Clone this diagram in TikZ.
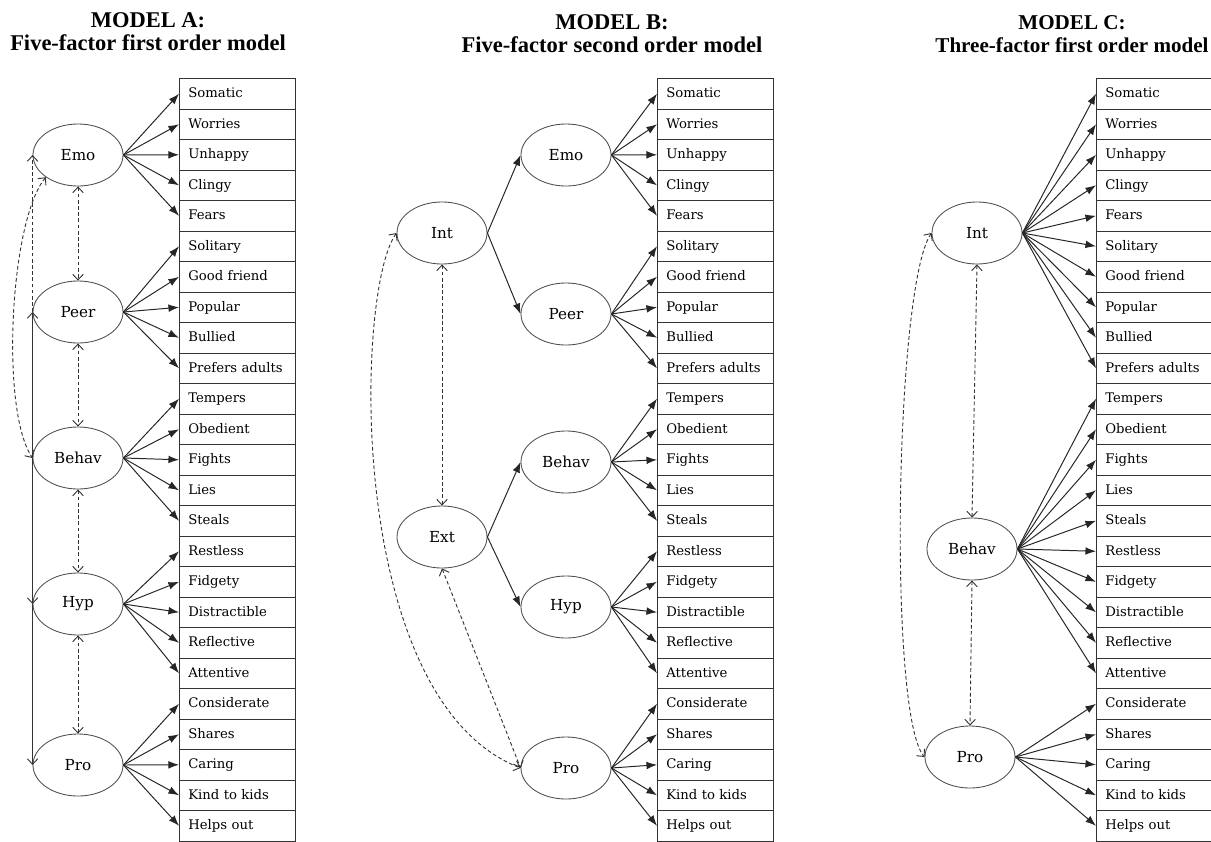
\documentclass[tikz,border=0pt]{standalone}
\usepackage{fontspec}
\setmainfont{DejaVu Serif}
\newfontfamily\headfont{Liberation Serif}
\usetikzlibrary{shapes,arrows.meta,positioning}

\begin{document}
\begin{tikzpicture}[x=0.025cm,y=-0.025cm,
  factor/.style={draw=black!70,line width=0.6pt,ellipse,minimum width=2.25cm,minimum height=1.55cm,inner sep=0pt,font=\fontsize{10.8}{12}\selectfont},
  item/.style={draw=black!80,line width=0.75pt,anchor=north west,minimum width=2.9cm,minimum height=0.7625cm,
    text width=2.46cm,inner xsep=0.22cm,text height=1.6ex,text depth=0.45ex,font=\fontsize{9.4}{11}\selectfont},
  wide/.style={minimum width=3.2cm,text width=2.76cm},
  load/.style={draw=black!85,line width=0.7pt,-{Latex[length=7.5pt,width=5.5pt]}},
  cov/.style={draw=black!80,line width=0.65pt,dashed,dash pattern=on 2.6pt off 1.8pt,{Straight Barb[length=4pt,width=7.5pt]}-{Straight Barb[length=4pt,width=7.5pt]}},
  covtip/.style={-{Straight Barb[length=4pt,width=7.5pt]}},
  title/.style={align=center,font=\headfont\bfseries\fontsize{16}{16.5}\selectfont}]
\useasboundingbox (0,0) rectangle (1211,842);

% titles
\node[title] (tA) at (148,32) {MODEL A:\\Five-factor first order model};
\node[title] (tB) at (612,34) {MODEL B:\\Five-factor second order model};
\node[title,font=\headfont\bfseries\fontsize{15}{16.5}\selectfont] (tC) at (1072,34) {MODEL C:\\Three-factor first order model};

% observed items
\foreach \lab [count=\i] in {Somatic,Worries,Unhappy,Clingy,Fears,Solitary,Good friend,Popular,Bullied,Prefers adults,Tempers,Obedient,Fights,Lies,Steals,Restless,Fidgety,Distractible,Reflective,Attentive,Considerate,Shares,Caring,Kind to kids,Helps out}{
  \node[item] (a\i) at (179,{78+30.5*(\i-1)}) {\lab};
  \node[item] (b\i) at (657,{78+30.5*(\i-1)}) {\lab};
  \node[item,wide] (c\i) at (1096,{78+30.5*(\i-1)}) {\lab};
}

% model A
\node[factor] (aEmo) at (78,155) {Emo};
\node[factor] (aPeer) at (78,312) {Peer};
\node[factor] (aBehav) at (78,458) {Behav};
\node[factor] (aHyp) at (78,604) {Hyp};
\node[factor] (aPro) at (78,765) {Pro};

% model B
\node[factor] (bInt) at (442,233) {Int};
\node[factor] (bExt) at (442,537) {Ext};
\node[factor] (bEmo) at (566,155) {Emo};
\node[factor] (bPeer) at (566,314) {Peer};
\node[factor] (bBehav) at (566,462) {Behav};
\node[factor] (bHyp) at (566,607) {Hyp};
\node[factor] (bPro) at (566,768) {Pro};

% model C
\node[factor] (cInt) at (977,233) {Int};
\node[factor] (cBehav) at (972,549) {Behav};
\node[factor] (cPro) at (970,757) {Pro};

% loadings
\foreach \f/\a/\b in {Emo/1/5,Peer/6/10,Behav/11/15,Hyp/16/20,Pro/21/25}{
  \foreach \i in {\a,...,\b}{
    \draw[load] (a\f.east) -- (a\i.west);
    \draw[load] (b\f.east) -- (b\i.west);
  }
}
\draw[load] (bInt.east) -- (bEmo.west);
\draw[load] (bInt.east) -- (bPeer.west);
\draw[load] (bExt.east) -- (bBehav.west);
\draw[load] (bExt.east) -- (bHyp.west);
\foreach \i in {1,...,10} \draw[load] (cInt.east) -- (c\i.west);
\foreach \i in {11,...,20} \draw[load] (cBehav.east) -- (c\i.west);
\foreach \i in {21,...,25} \draw[load] (cPro.east) -- (c\i.west);

% covariances, model A
\draw[cov] (aEmo.south) -- (aPeer.north);
\draw[cov] (aPeer.south) -- (aBehav.north);
\draw[cov] (aBehav.south) -- (aHyp.north);
\draw[cov] (aHyp.south) -- (aPro.north);
\draw[cov,covtip] (aPeer.west) -- (aEmo.west);
\draw[cov,solid,covtip] (aBehav.west) -- (aPeer.west);
\draw[cov,solid,covtip] (aBehav.west) -- (aHyp.west);
\draw[cov,solid,covtip] (aHyp.west) -- (aPro.west);
\draw[cov] (aEmo.south west) .. controls (10,220) and (0,410) .. (aBehav.west);

% covariances, model B
\draw[cov] (bInt.south) -- (bExt.north);
\draw[cov] (bExt.south) -- (bPro.west);
\draw[cov] (bInt.west) .. controls (355,290) and (345,700) .. (bPro.west);

% covariances, model C
\draw[cov] (cInt.south) -- (cBehav.north);
\draw[cov] (cBehav.south) -- (cPro.north);
\draw[cov] (cInt.west) .. controls (895,285) and (888,715) .. (cPro.west);

\end{tikzpicture}
\end{document}
